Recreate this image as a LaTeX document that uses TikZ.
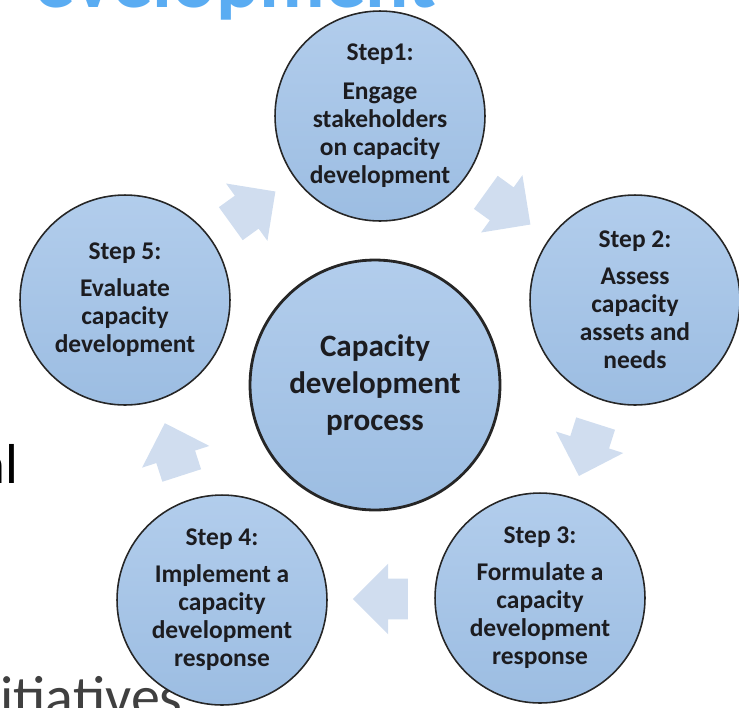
\documentclass[tikz,border=0pt]{standalone}
\usepackage{fontspec}
\setmainfont{Carlito}
\usetikzlibrary{shapes.arrows}
\usetikzlibrary{calc}

\definecolor{steptop}{RGB}{178,205,236}
\definecolor{stepbot}{RGB}{156,189,226}
\definecolor{flowfill}{RGB}{208,221,239}
\definecolor{titleblue}{RGB}{90,172,242}
\definecolor{textdark}{RGB}{28,28,32}
\definecolor{slidegrey}{RGB}{64,64,64}

\begin{document}
\begin{tikzpicture}[x=0.02cm,y=-0.02cm,
  stepcircle/.style={circle,draw=black!85,line width=0.9pt,top color=steptop,bottom color=stepbot,
    minimum size=4.2cm,inner sep=0pt,align=center,text=textdark,
    font=\bfseries\fontsize{14.5}{16}\selectfont},
  hubcircle/.style={stepcircle,line width=1.6pt,minimum size=5cm,
    font=\bfseries\fontsize{17.7}{21}\selectfont},
  flowarrow/.style={single arrow,fill=flowfill,draw=none,inner xsep=0pt,inner ysep=0.4cm,
    minimum height=1.1cm,minimum width=1.4cm,single arrow head extend=0.3cm},
  slidetext/.style={anchor=base east,inner sep=0pt}]
\useasboundingbox (0,0) rectangle (739,707);
\clip (0,0) rectangle (739,707);

\node[slidetext,text=titleblue,font=\bfseries\fontsize{46}{46}\selectfont] (title) at (437,7) {evelopment};
\node[slidetext,text=black,font=\fontsize{32}{32}\selectfont] (leftword) at (19,483) {al};
\node[slidetext,text=slidegrey,font=\fontsize{33}{33}\selectfont] (bottomword) at (183,716) {itiatives};

\node[hubcircle] (hub) at (375,385) {Capacity\\development\\process};

\node[stepcircle] (s1) at (380,116) {Step1:\\[6pt]Engage\\stakeholders\\on capacity\\development};
\node[stepcircle] (s2) at (635,300) {Step 2:\\[5pt]Assess\\capacity\\assets and\\needs};
\node[stepcircle] (s3) at (540,598) {Step 3:\\[5pt]Formulate a\\capacity\\development\\response};
\node[stepcircle] (s4) at (222,600) {Step 4:\\[5pt]Implement a\\capacity\\development\\response};
\node[stepcircle] (s5) at (125,300) {Step 5:\\[5pt]Evaluate\\capacity\\development};

\node[flowarrow,rotate=-35.8] (a12) at ($(s1)!0.47!(s2)$) {};
\node[flowarrow,rotate=-107.7] (a23) at ($(s2)!0.47!(s3)$) {};
\node[flowarrow,rotate=180] (a34) at ($(s3)!0.47!(s4)$) {};
\node[flowarrow,rotate=107.9] (a45) at ($(s4)!0.47!(s5)$) {};
\node[flowarrow,rotate=35.8] (a51) at ($(s5)!0.47!(s1)$) {};

\end{tikzpicture}
\end{document}
